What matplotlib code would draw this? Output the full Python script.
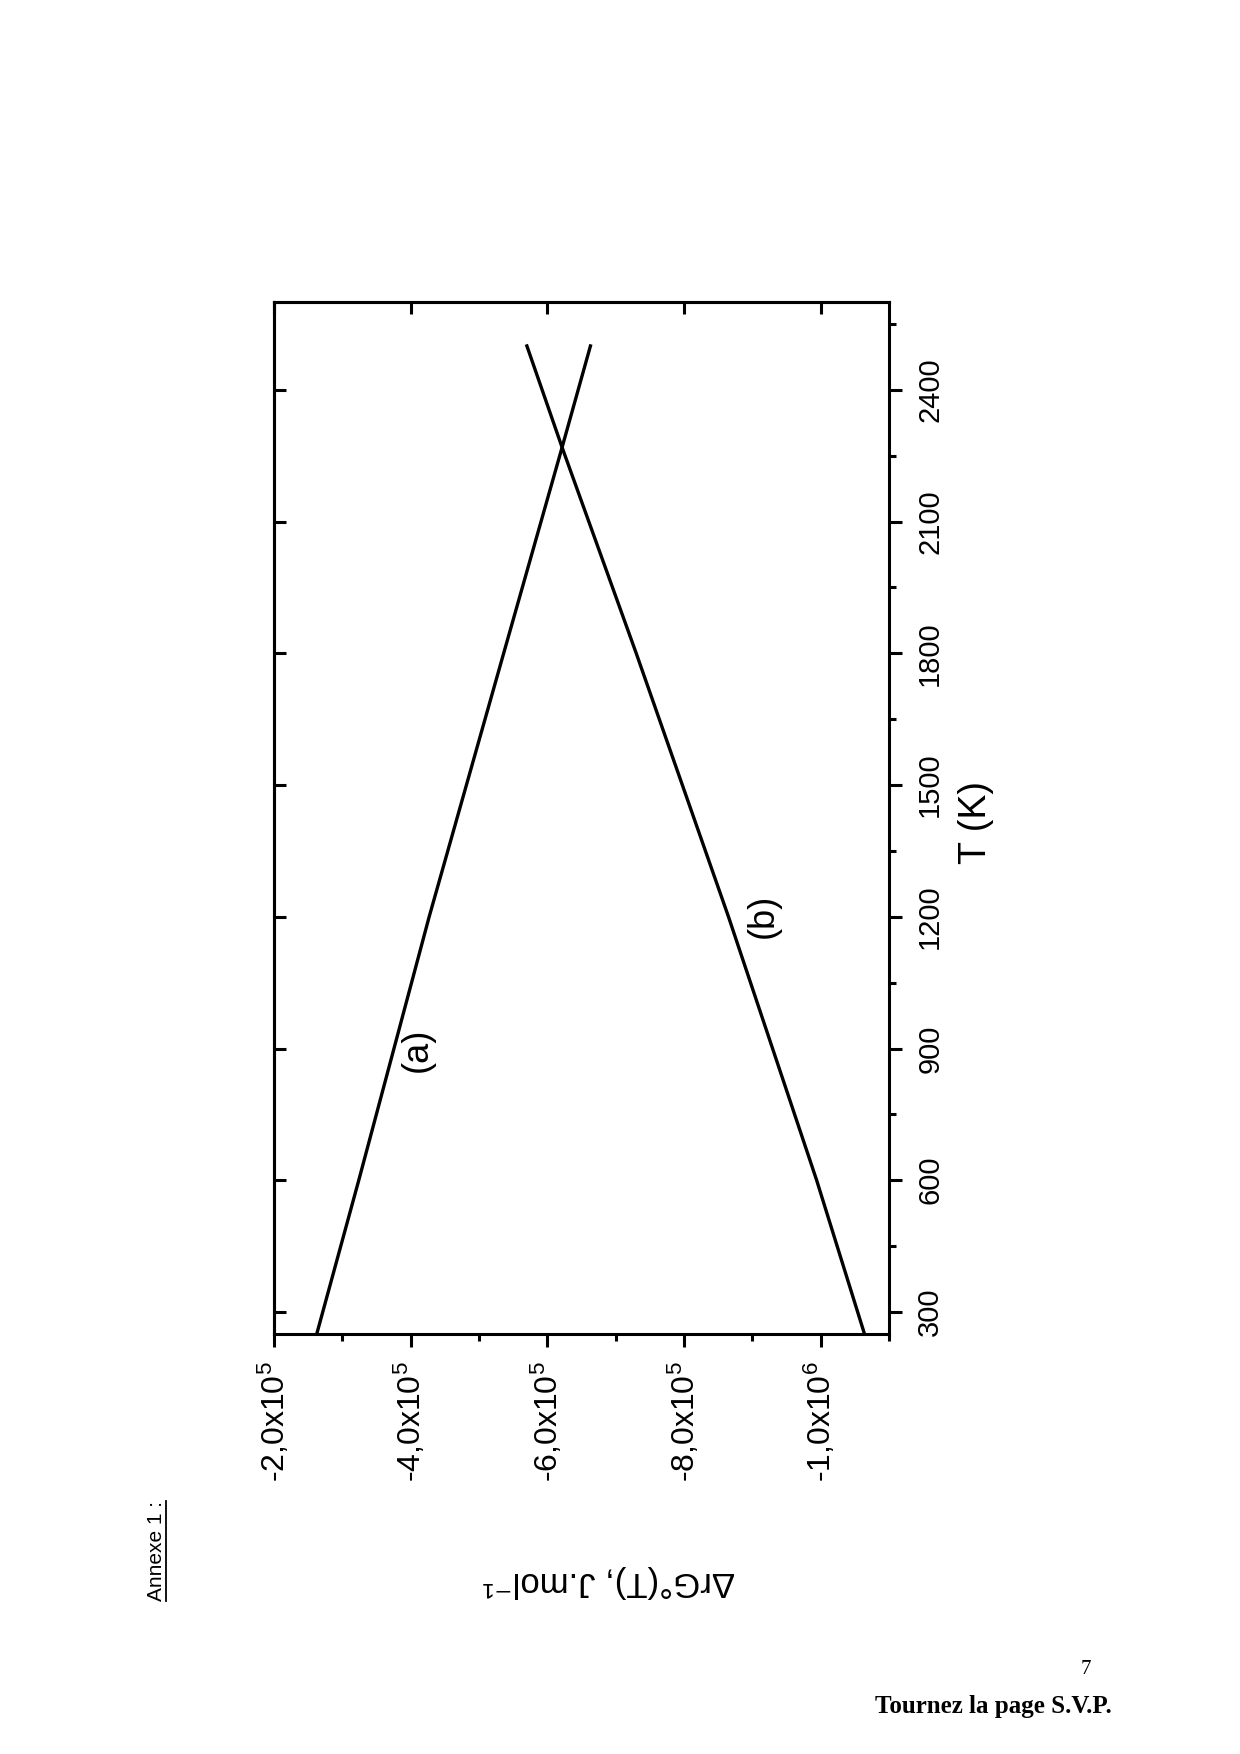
import matplotlib
matplotlib.use('Agg')
import matplotlib.pyplot as plt
from matplotlib.ticker import FixedLocator, MultipleLocator, NullLocator, NullFormatter
from matplotlib.lines import Line2D
from matplotlib.transforms import IdentityTransform

plt.rcParams['font.family'] = ['Liberation Sans', 'DejaVu Sans']
plt.rcParams['mathtext.fontset'] = 'custom'
plt.rcParams['mathtext.rm'] = 'Liberation Sans'
plt.rcParams['mathtext.it'] = 'Liberation Sans:italic'

# values (T in K, DrG in J/mol)
T_a = [250, 600, 1200, 1800, 2269, 2500]
G_a = [-2.625e5, -3.24e5, -4.27e5, -5.36e5, -6.215e5, -6.63e5]
T_b = [250, 600, 1200, 1800, 2269, 2500]
G_b = [-10.64e5, -9.94e5, -8.65e5, -7.30e5, -6.215e5, -5.70e5]

g_ticks = [-2e5, -4e5, -6e5, -8e5, -10e5]
g_labels = ['-2,0x10$^{5}$', '-4,0x10$^{5}$', '-6,0x10$^{5}$',
            '-8,0x10$^{5}$', '-1,0x10$^{6}$']
t_ticks = [300, 600, 900, 1200, 1500, 1800, 2100, 2400]

fig = plt.figure(figsize=(12.4, 17.54), dpi=100)
# the whole chart is printed turned a quarter turn on the page:
# horizontal = DrG (inverted), vertical = T
ax = fig.add_axes([0.221, 0.2395, 0.496, 0.5883])

ax.plot(G_a, T_a, color='black', lw=2.4)
ax.plot(G_b, T_b, color='black', lw=2.4)

ax.set_xlim(-2e5, -11e5)
ax.set_ylim(250, 2600)

for s in ax.spines.values():
    s.set_linewidth(2.2)

ax.xaxis.set_major_locator(FixedLocator(g_ticks))
ax.set_xticklabels(g_labels, rotation=90)
ax.xaxis.set_minor_locator(MultipleLocator(1e5))
ax.yaxis.tick_right()
ax.yaxis.set_major_locator(FixedLocator(t_ticks))
ax.set_yticklabels([str(t) for t in t_ticks], rotation=90, va='center')
ax.yaxis.set_minor_locator(MultipleLocator(150))

ax.tick_params(which='major', direction='out', length=9.5, width=2.2, pad=10)
ax.tick_params(which='minor', direction='out', length=5, width=2.2)
ax.tick_params(axis='x', top=False, bottom=True, which='both', labelsize=23)
ax.tick_params(axis='y', left=False, right=True, which='both', labelsize=21)

# inward mirror ticks on the two other sides
sx = ax.secondary_xaxis('top')
sx.xaxis.set_major_locator(FixedLocator(g_ticks))
sx.xaxis.set_minor_locator(NullLocator())
sx.xaxis.set_major_formatter(NullFormatter())
sx.tick_params(direction='in', length=8.5, width=2.2)
sx.spines['top'].set_linewidth(2.2)

sy = ax.secondary_yaxis('left')
sy.yaxis.set_major_locator(FixedLocator(t_ticks))
sy.yaxis.set_minor_locator(NullLocator())
sy.yaxis.set_major_formatter(NullFormatter())
sy.tick_params(direction='in', length=8.5, width=2.2)
sy.spines['left'].set_linewidth(2.2)

ax.set_xlabel('ΔrG°(T), J.mol⁻¹', fontsize=25, rotation=180,
              ha='center', va='center')
ax.xaxis.set_label_coords(0.545, -0.24)
ax.yaxis.set_label_position('right')
ax.set_ylabel('T (K)', fontsize=27, rotation=90, ha='center', va='center')
ax.yaxis.set_label_coords(1.142, 0.496)

ax.text(-4.09e5, 897, '(a)', fontsize=26, rotation=90, ha='center', va='center')
ax.text(-9.16e5, 1201, '(b)', fontsize=26, rotation=90, ha='center', va='center')

annexe = fig.text(157 / 1240, 1 - 1551 / 1754, 'Annexe 1 :', fontsize=15,
                  rotation=90, ha='center', va='center')

fig.text(1086 / 1240, 1 - 1670 / 1754, '7', fontsize=15,
         family='Liberation Serif', ha='center', va='center')
fig.text(1112 / 1240, 1 - 1706 / 1754, 'Tournez la page S.V.P.', fontsize=18,
         family='Liberation Serif', weight='bold', ha='right', va='center')

# underline of "Annexe 1 :" (text is turned, so the line sits on its right)
fig.canvas.draw()
bb = annexe.get_window_extent()
fig.add_artist(Line2D([bb.x1 - 1, bb.x1 - 1], [bb.y0, bb.y1], color='black',
                      lw=1.3, transform=IdentityTransform()))

fig.savefig('out.png', dpi=100, facecolor='white')
